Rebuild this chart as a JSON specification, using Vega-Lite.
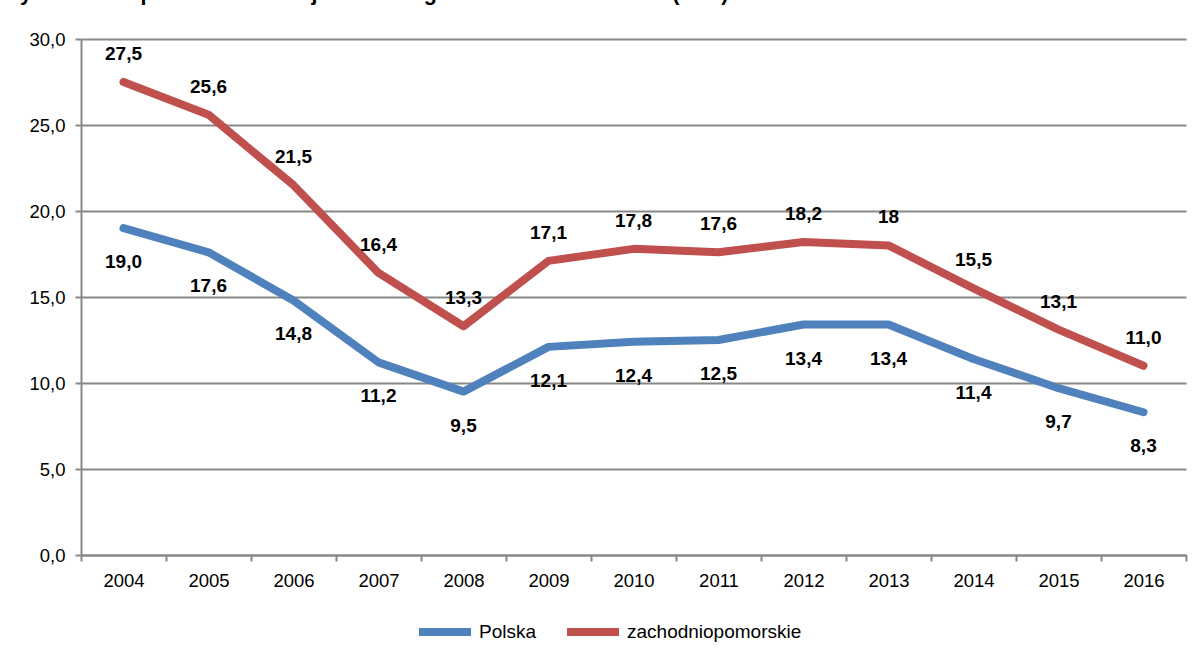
{
  "$schema": "https://vega.github.io/schema/vega-lite/v6.json",
  "autosize": "none",
  "width": 1105,
  "height": 516,
  "padding": {"left": 81, "top": 39, "right": 14, "bottom": 100},
  "background": "white",
  "config": {
    "locale": {"number": {"decimal": ",", "thousands": " ", "grouping": [3], "currency": ["", " zł"]}},
    "view": {"stroke": null},
    "font": "Liberation Sans"
  },
  "title": {
    "text": "Wykres 1. Stopa bezrobocia rejestrowanego w latach 2004 – 2016 (w %)",
    "anchor": "start",
    "frame": "group",
    "dx": -81,
    "offset": 26,
    "font": "Liberation Sans",
    "fontSize": 21.5,
    "fontWeight": "bold",
    "color": "#000"
  },
  "data": {
    "values": [
      {"rok": "2004", "seria": "Polska", "v": 19.0, "lab": "19,0"},
      {"rok": "2005", "seria": "Polska", "v": 17.6, "lab": "17,6"},
      {"rok": "2006", "seria": "Polska", "v": 14.8, "lab": "14,8"},
      {"rok": "2007", "seria": "Polska", "v": 11.2, "lab": "11,2"},
      {"rok": "2008", "seria": "Polska", "v": 9.5, "lab": "9,5"},
      {"rok": "2009", "seria": "Polska", "v": 12.1, "lab": "12,1"},
      {"rok": "2010", "seria": "Polska", "v": 12.4, "lab": "12,4"},
      {"rok": "2011", "seria": "Polska", "v": 12.5, "lab": "12,5"},
      {"rok": "2012", "seria": "Polska", "v": 13.4, "lab": "13,4"},
      {"rok": "2013", "seria": "Polska", "v": 13.4, "lab": "13,4"},
      {"rok": "2014", "seria": "Polska", "v": 11.4, "lab": "11,4"},
      {"rok": "2015", "seria": "Polska", "v": 9.7, "lab": "9,7"},
      {"rok": "2016", "seria": "Polska", "v": 8.3, "lab": "8,3"},
      {"rok": "2004", "seria": "zachodniopomorskie", "v": 27.5, "lab": "27,5"},
      {"rok": "2005", "seria": "zachodniopomorskie", "v": 25.6, "lab": "25,6"},
      {"rok": "2006", "seria": "zachodniopomorskie", "v": 21.5, "lab": "21,5"},
      {"rok": "2007", "seria": "zachodniopomorskie", "v": 16.4, "lab": "16,4"},
      {"rok": "2008", "seria": "zachodniopomorskie", "v": 13.3, "lab": "13,3"},
      {"rok": "2009", "seria": "zachodniopomorskie", "v": 17.1, "lab": "17,1"},
      {"rok": "2010", "seria": "zachodniopomorskie", "v": 17.8, "lab": "17,8"},
      {"rok": "2011", "seria": "zachodniopomorskie", "v": 17.6, "lab": "17,6"},
      {"rok": "2012", "seria": "zachodniopomorskie", "v": 18.2, "lab": "18,2"},
      {"rok": "2013", "seria": "zachodniopomorskie", "v": 18.0, "lab": "18"},
      {"rok": "2014", "seria": "zachodniopomorskie", "v": 15.5, "lab": "15,5"},
      {"rok": "2015", "seria": "zachodniopomorskie", "v": 13.1, "lab": "13,1"},
      {"rok": "2016", "seria": "zachodniopomorskie", "v": 11.0, "lab": "11,0"}
    ]
  },
  "encoding": {
    "x": {
      "field": "rok", "type": "ordinal", "title": null,
      "scale": {"paddingInner": 0, "paddingOuter": 0},
      "axis": {
        "labelAngle": 0, "labelFontSize": 18.5, "labelColor": "#000", "labelFont": "Liberation Sans",
        "tickBand": "extent", "tickSize": 6, "tickColor": "#888", "tickWidth": 2,
        "domainColor": "#888", "domainWidth": 2, "labelPadding": 10, "grid": false
      }
    },
    "y": {
      "field": "v", "type": "quantitative", "title": null,
      "scale": {"domain": [0, 30], "nice": false},
      "axis": {
        "values": [0, 5, 10, 15, 20, 25, 30], "format": ".1f",
        "labelFontSize": 18.5, "labelColor": "#000", "labelFont": "Liberation Sans",
        "tickSize": 6, "tickColor": "#888", "tickWidth": 2,
        "domainColor": "#888", "domainWidth": 2, "labelPadding": 10,
        "grid": true, "gridColor": "#888", "gridWidth": 2
      }
    },
    "color": {
      "field": "seria", "type": "nominal",
      "scale": {"domain": ["Polska", "zachodniopomorskie"], "range": ["#4F81BD", "#C0504D"]},
      "legend": {
        "title": null, "orient": "none", "direction": "horizontal",
        "legendX": 334, "legendY": 563,
        "symbolType": "stroke", "symbolSize": 2704, "symbolStrokeWidth": 8,
        "labelFontSize": 19, "labelColor": "#000", "labelFont": "Liberation Sans",
        "labelLimit": 400, "columnPadding": 14, "labelOffset": 4
      }
    }
  },
  "layer": [
    {"mark": {"type": "line", "strokeWidth": 8, "strokeCap": "round", "strokeJoin": "round"}},
    {
      "transform": [{"filter": "datum.seria === 'Polska'"}],
      "mark": {"type": "text", "dy": 34, "fontSize": 19, "fontWeight": "bold", "color": "#000", "font": "Liberation Sans"},
      "encoding": {"text": {"field": "lab"}, "color": {"value": "#000"}}
    },
    {
      "transform": [{"filter": "datum.seria !== 'Polska'"}],
      "mark": {"type": "text", "dy": -28, "fontSize": 19, "fontWeight": "bold", "color": "#000", "font": "Liberation Sans"},
      "encoding": {"text": {"field": "lab"}, "color": {"value": "#000"}}
    }
  ]
}
